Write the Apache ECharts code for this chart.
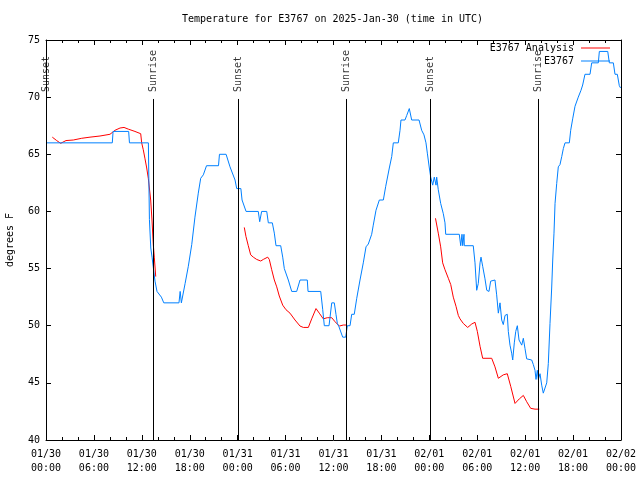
<!DOCTYPE html>
<html><head><meta charset="utf-8">
<script src="https://cdn.jsdelivr.net/npm/echarts@6/dist/echarts.min.js"></script>
<style>html,body{margin:0;padding:0;background:#fff}#c{width:640px;height:480px}</style>
</head><body><div id="c"></div>
<script>
// hours since 2025-01-30 00:00 UTC
const xTickLabels = ['01/30\n00:00','01/30\n06:00','01/30\n12:00','01/30\n18:00','01/31\n00:00','01/31\n06:00','01/31\n12:00','01/31\n18:00','02/01\n00:00','02/01\n06:00','02/01\n12:00','02/01\n18:00','02/02\n00:00'];
const sunHours = [0.05, 13.45, 24.1, 37.57, 48.1, 61.6];
const sunLabels = ['Sunset','Sunrise','Sunset','Sunrise','Sunset','Sunrise'];

const obsHours = [0.1,8.3,8.4,10.35,10.45,12.82,12.86,12.95,13.12,13.28,13.42,13.65,13.9,14.45,14.75,16.65,16.8,16.95,17.15,17.42,17.82,18.25,18.65,19.07,19.37,19.7,20.1,21.6,21.72,22.55,23.04,23.67,23.88,24.4,24.55,25.05,26.58,26.76,27.0,27.64,27.84,28.34,28.59,28.8,29.39,29.64,29.84,30.34,30.77,31.39,31.81,32.72,32.81,34.4,34.65,34.85,35.44,35.78,36.1,36.31,36.48,36.69,37.15,37.53,37.73,38.07,38.28,38.6,38.91,39.32,39.73,40.07,40.36,40.78,40.98,41.32,41.74,42.24,42.54,42.99,43.29,43.49,44.11,44.33,44.45,44.95,45.17,45.49,45.79,46.71,47.04,47.33,47.58,47.75,48.0,48.17,48.42,48.62,48.84,48.92,49.12,49.42,49.75,49.96,50.05,51.75,51.93,52.09,52.18,52.34,52.38,53.5,53.72,53.93,54.13,54.35,54.47,54.68,54.97,55.19,55.47,55.68,56.22,56.43,56.64,56.85,57.06,57.26,57.48,57.76,57.89,58.1,58.31,58.44,58.64,58.82,59.02,59.23,59.44,59.57,59.77,59.98,60.19,60.82,61.02,61.23,61.36,61.52,61.65,61.86,62.07,62.27,62.48,62.7,62.9,63.11,63.32,63.45,63.61,63.74,63.95,64.15,64.36,64.58,64.78,64.99,65.53,65.7,65.95,66.24,66.65,66.99,67.2,67.49,68.12,68.33,69.16,69.29,70.34,70.54,71.04,71.25,71.54,71.79,71.95];
const obsTemps = [66,66,67,67,66,66,63.8,59.3,56.8,56,55.2,53.9,53,52.5,52,52,53,52,52,53.7,55.2,57.1,59.5,61.6,62.9,63.2,64,64,65,65,63.9,62.75,62,62,61,60,60,59.1,60,60,59,59,58.1,57,57,56,55,54,53,53,54,54,53,53,51.4,50,50,52,52,51,50.2,49.9,49,49,50,50,51,51,52.4,54,55.5,56.9,57.15,58,58.8,60.1,61,61,62.2,63.8,64.8,66,66,67.1,68,68,68.4,69,68,68,67.1,66.7,66,65.1,63.8,63,62.3,63,62.3,63,61.9,60.7,59.8,59,58,58,57,58,57,58,57,57,55.5,53.1,53.7,55.5,56,55.2,54.1,53.1,53,53.9,54,52.7,51.1,52,50.5,50.1,50.9,51,49.5,48.3,47.6,47,48.5,49.5,50,48.75,48.9,48.3,48.9,48,47.1,47,46.6,46.1,45.3,46.1,45.3,45.8,44.8,44.1,44.1,45,46.7,50.2,53.3,55.75,58.1,60.7,62.45,63.9,64.1,64.8,65.5,66,66,67.1,68.1,69.2,70,70.6,71.06,72,72,73,73,74,74,73,73,72,72,71,70.8];

const anaHours = [0.79,1.34,1.84,2.5,3.42,4.47,5.51,6.76,8.01,8.64,9.27,9.77,10.31,11.14,11.86,11.98,12.18,12.4,12.61,12.81,13.11,13.27,13.44,13.56,13.74,19.0,24.83,25.04,25.33,25.63,25.96,26.38,26.89,27.21,27.76,27.96,28.26,28.59,28.89,29.21,29.64,30.05,30.55,31.18,31.81,32.22,32.85,33.27,33.81,34.22,34.72,35.22,35.78,36.19,36.73,37.23,37.65,43.0,48.77,49.12,49.42,49.67,49.96,50.38,50.68,51.0,51.34,51.63,51.84,52.25,52.8,53.31,53.72,54.01,54.35,54.68,55.81,56.22,56.64,57.26,57.76,58.19,58.73,59.27,59.77,60.19,60.69,61.23,61.77];
const anaTemps = [66.5,66.2,65.96,66.2,66.25,66.4,66.5,66.6,66.75,67.1,67.3,67.35,67.2,67,66.8,66,65.4,64.6,63.8,62.9,61,59.25,57.06,56,54.3,null,58.6,57.8,57,56.2,56,55.8,55.66,55.8,56,55.8,54.9,54,53.4,52.6,51.8,51.4,51.1,50.5,49.97,49.85,49.85,50.6,51.5,51.1,50.6,50.7,50.7,50.35,49.97,50.06,50.06,null,59.4,58.1,56.9,55.5,54.9,54.15,53.6,52.5,51.7,50.9,50.6,50.2,49.85,50.15,50.3,49.5,48.2,47.15,47.15,46.4,45.4,45.7,45.8,44.7,43.2,43.6,43.9,43.35,42.77,42.7,42.7];

const FONT = 'DejaVu Sans Mono';
const chart = echarts.init(document.getElementById('c'), null, {renderer:'canvas'});
const axisLine = {show:true, onZero:false, lineStyle:{color:'#000', width:1}};
const xCommon = {type:'value', min:0, max:72, interval:6,
  axisLine, splitLine:{show:false},
  axisTick:{show:true, inside:true, length:5, lineStyle:{color:'#000'}},
  minorTick:{show:true, splitNumber:3, length:3, lineStyle:{color:'#000'}},
  minorSplitLine:{show:false}};
const yCommon = {type:'value', min:40, max:75, interval:5,
  axisLine, splitLine:{show:false},
  axisTick:{show:true, inside:true, length:5, lineStyle:{color:'#000'}}};

chart.setOption({
  animation:false,
  backgroundColor:'#fff',
  title:{text:'Temperature for E3767 on 2025-Jan-30 (time in UTC)', left:182, top:14, padding:0,
    textStyle:{fontFamily:FONT, fontSize:10, fontWeight:'normal', color:'#000'}},
  grid:{left:46, right:19, top:40, bottom:40, containLabel:false, outerBoundsMode:'none'},
  legend:[
    {data:['E3767 Analysis'], right:30, top:43, padding:0, align:'right', icon:'rect', itemWidth:29, itemHeight:1,
     itemGap:7, textStyle:{fontFamily:FONT, fontSize:10, color:'#000', padding:[0,2,0,0]}},
    {data:['E3767'], right:30, top:56, padding:0, align:'right', icon:'rect', itemWidth:29, itemHeight:1,
     textStyle:{fontFamily:FONT, fontSize:10, color:'#000', padding:[0,2,0,0]}}
  ],
  xAxis:[
    Object.assign({}, xCommon, {position:'bottom',
      axisLabel:{show:true, margin:7, fontFamily:FONT, fontSize:10, color:'#000', lineHeight:14,
        formatter:(v)=>xTickLabels[Math.round(v/6)]}}),
    Object.assign({}, xCommon, {position:'top', axisLabel:{show:false}})
  ],
  yAxis:[
    Object.assign({}, yCommon, {position:'left', name:'degrees F', nameLocation:'middle', nameGap:31,
      nameTextStyle:{fontFamily:FONT, fontSize:10, color:'#000'},
      axisLabel:{show:true, margin:6, fontFamily:FONT, fontSize:10, color:'#000'}}),
    Object.assign({}, yCommon, {position:'right', axisLabel:{show:false}})
  ],
  series:[
    {name:'E3767 Analysis', type:'line', symbol:'none', connectNulls:false,
     lineStyle:{color:'#ff0000', width:1}, itemStyle:{color:'#ff0000'},
     data: anaHours.map((h,i)=>[h, anaTemps[i]===null ? '-' : anaTemps[i]])},
    {name:'E3767', type:'line', symbol:'none',
     lineStyle:{color:'#0080ff', width:1}, itemStyle:{color:'#0080ff'},
     data: obsHours.map((h,i)=>[h, obsTemps[i]])},
    {name:'sun', type:'scatter', symbolSize:1, itemStyle:{color:'rgba(0,0,0,0)'}, silent:true,
     data: sunHours.map((h,i)=>({value:[h,70.45], name:sunLabels[i]})),
     label:{show:true, formatter:(p)=>p.name, position:'inside', rotate:90, align:'left', verticalAlign:'middle',
       fontFamily:FONT, fontSize:10, color:'#000'},
     markLine:{silent:true, symbol:['none','none'], label:{show:false},
       lineStyle:{color:'#000', width:1, type:'solid'},
       data: sunHours.map(h=>[{coord:[h,40]},{coord:[h,69.84]}])}
    }
  ]
});
</script></body></html>
